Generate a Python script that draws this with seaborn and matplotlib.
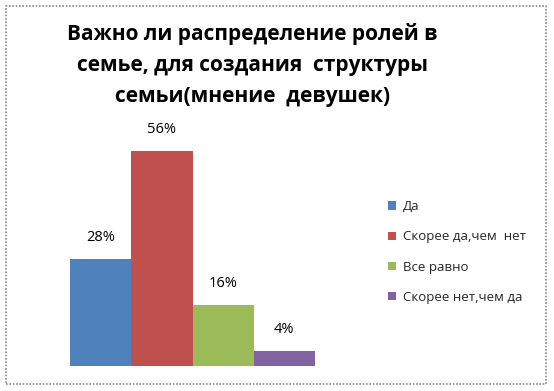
import matplotlib
matplotlib.use("Agg")
import matplotlib.pyplot as plt
import seaborn as sns
import pandas as pd
from matplotlib.patches import Patch, Rectangle

categories = ["Да", "Скорее да,чем  нет", "Все равно", "Скорее нет,чем да"]
values = [28, 56, 16, 4]
labels = ["28%", "56%", "16%", "4%"]
colors = ["#4F81BD", "#C0504D", "#9BBB59", "#8064A2"]
title = "Важно ли распределение ролей в\nсемье, для создания  структуры\nсемьи(мнение  девушек)"

sns.set_theme(style="white")
plt.rcParams["font.family"] = ["Open Sans", "DejaVu Sans"]

W, H = 554, 391
fig = plt.figure(figsize=(W / 100, H / 100), dpi=100)
fig.patch.set_facecolor("white")

# axes in pixel coordinates
x0, x1 = 70, 315
y_bottom, y_top = 366, 136
ax = fig.add_axes([x0 / W, (H - y_bottom) / H, (x1 - x0) / W, (y_bottom - y_top) / H])

df = pd.DataFrame({"cat": categories, "val": values})
sns.barplot(data=df, x="cat", y="val", hue="cat", palette=colors, width=1.0,
            dodge=False, legend=False, ax=ax, saturation=1, edgecolor="none")
ax.set_xlim(-0.5, 3.5)
ax.set_ylim(0, 60)
ax.axis("off")

for i, (v, lab) in enumerate(zip(values, labels)):
    ax.annotate(lab, (i, v), xytext=(0, 15.5), textcoords="offset points",
                ha="center", va="center", fontsize=10.5, color="#000000")

fig.text(0.5 * (72 + 433) / W, 1 - 65 / H, title, ha="center", va="center",
         fontsize=15, fontweight="bold", linespacing=1.6, color="black")

handles = [Patch(facecolor=c, edgecolor="none") for c in colors]
fig.legend(handles, categories, loc="center left",
           bbox_to_anchor=(381 / W, 1 - 252 / H), frameon=False,
           fontsize=9.5, handlelength=0.6, handleheight=0.6, handletextpad=0.55,
           labelspacing=1.3, borderpad=0)

# dotted figure border
fig.patches.append(Rectangle((6 / W, 7 / H), (546 - 6) / W, (385 - 7) / H,
                             transform=fig.transFigure, fill=False,
                             edgecolor="#8C8C8C", linestyle=(0, (1, 1)), linewidth=1.2))

fig.savefig("out.png", dpi=100)
